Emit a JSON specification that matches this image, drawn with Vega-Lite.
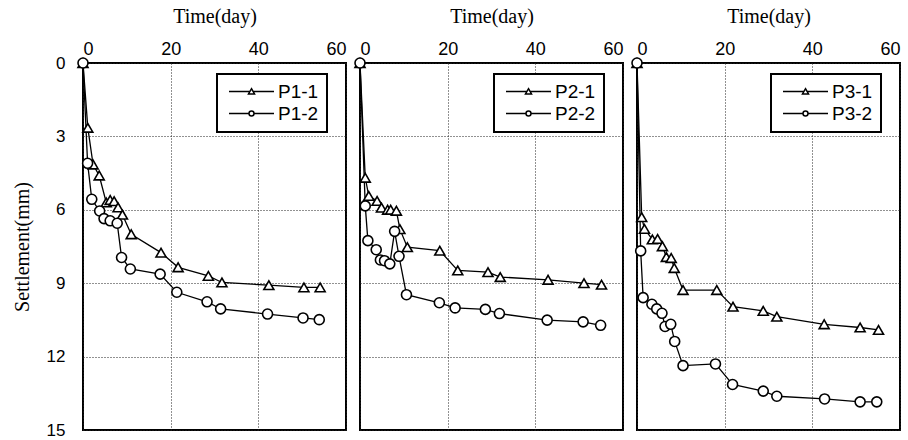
{
  "$schema": "https://vega.github.io/schema/vega-lite/v6.json",
  "padding": {"left": 11, "top": 5, "right": 0, "bottom": 0},
  "spacing": 14,
  "bounds": "flush",
  "data": {"values": [
    {"p":"P1","k":"P1-1","t":0,"s":0},{"p":"P1","k":"P1-1","t":1.1,"s":2.65},{"p":"P1","k":"P1-1","t":2.3,"s":4.15},{"p":"P1","k":"P1-1","t":3.7,"s":4.6},{"p":"P1","k":"P1-1","t":5.3,"s":5.7},{"p":"P1","k":"P1-1","t":6.2,"s":5.6},{"p":"P1","k":"P1-1","t":7.1,"s":5.65},{"p":"P1","k":"P1-1","t":8.0,"s":5.9},{"p":"P1","k":"P1-1","t":9.0,"s":6.2},{"p":"P1","k":"P1-1","t":11.0,"s":7.0},{"p":"P1","k":"P1-1","t":17.8,"s":7.75},{"p":"P1","k":"P1-1","t":21.7,"s":8.35},{"p":"P1","k":"P1-1","t":28.6,"s":8.7},{"p":"P1","k":"P1-1","t":31.7,"s":8.97},{"p":"P1","k":"P1-1","t":42.4,"s":9.08},{"p":"P1","k":"P1-1","t":50.4,"s":9.17},{"p":"P1","k":"P1-1","t":54.1,"s":9.17},
    {"p":"P1","k":"P1-2","t":0,"s":0},{"p":"P1","k":"P1-2","t":1.05,"s":4.1},{"p":"P1","k":"P1-2","t":2.0,"s":5.57},{"p":"P1","k":"P1-2","t":3.8,"s":6.05},{"p":"P1","k":"P1-2","t":4.8,"s":6.36},{"p":"P1","k":"P1-2","t":6.2,"s":6.45},{"p":"P1","k":"P1-2","t":7.8,"s":6.55},{"p":"P1","k":"P1-2","t":8.8,"s":7.95},{"p":"P1","k":"P1-2","t":10.8,"s":8.42},{"p":"P1","k":"P1-2","t":17.6,"s":8.63},{"p":"P1","k":"P1-2","t":21.4,"s":9.37},{"p":"P1","k":"P1-2","t":28.3,"s":9.76},{"p":"P1","k":"P1-2","t":31.4,"s":10.05},{"p":"P1","k":"P1-2","t":42.1,"s":10.26},{"p":"P1","k":"P1-2","t":50.2,"s":10.42},{"p":"P1","k":"P1-2","t":53.9,"s":10.49},
    {"p":"P2","k":"P2-1","t":0,"s":0},{"p":"P2","k":"P2-1","t":1.2,"s":4.69},{"p":"P2","k":"P2-1","t":2.0,"s":5.43},{"p":"P2","k":"P2-1","t":3.9,"s":5.64},{"p":"P2","k":"P2-1","t":4.9,"s":5.91},{"p":"P2","k":"P2-1","t":6.3,"s":6.0},{"p":"P2","k":"P2-1","t":7.0,"s":6.0},{"p":"P2","k":"P2-1","t":8.3,"s":6.04},{"p":"P2","k":"P2-1","t":9.1,"s":6.79},{"p":"P2","k":"P2-1","t":10.8,"s":7.53},{"p":"P2","k":"P2-1","t":18.2,"s":7.67},{"p":"P2","k":"P2-1","t":22.3,"s":8.48},{"p":"P2","k":"P2-1","t":29.2,"s":8.55},{"p":"P2","k":"P2-1","t":32.0,"s":8.75},{"p":"P2","k":"P2-1","t":42.9,"s":8.86},{"p":"P2","k":"P2-1","t":51.1,"s":9.0},{"p":"P2","k":"P2-1","t":55.1,"s":9.06},
    {"p":"P2","k":"P2-2","t":0,"s":0},{"p":"P2","k":"P2-2","t":1.2,"s":5.84},{"p":"P2","k":"P2-2","t":1.8,"s":7.26},{"p":"P2","k":"P2-2","t":3.7,"s":7.63},{"p":"P2","k":"P2-2","t":4.65,"s":8.05},{"p":"P2","k":"P2-2","t":5.6,"s":8.08},{"p":"P2","k":"P2-2","t":6.8,"s":8.21},{"p":"P2","k":"P2-2","t":7.9,"s":6.88},{"p":"P2","k":"P2-2","t":8.9,"s":7.9},{"p":"P2","k":"P2-2","t":10.6,"s":9.47},{"p":"P2","k":"P2-2","t":18.1,"s":9.8},{"p":"P2","k":"P2-2","t":21.7,"s":10.01},{"p":"P2","k":"P2-2","t":28.6,"s":10.07},{"p":"P2","k":"P2-2","t":31.8,"s":10.24},{"p":"P2","k":"P2-2","t":42.7,"s":10.51},{"p":"P2","k":"P2-2","t":50.9,"s":10.58},{"p":"P2","k":"P2-2","t":54.9,"s":10.72},
    {"p":"P3","k":"P3-1","t":0,"s":0},{"p":"P3","k":"P3-1","t":1.07,"s":6.3},{"p":"P3","k":"P3-1","t":1.7,"s":6.78},{"p":"P3","k":"P3-1","t":3.5,"s":7.21},{"p":"P3","k":"P3-1","t":4.7,"s":7.19},{"p":"P3","k":"P3-1","t":5.8,"s":7.49},{"p":"P3","k":"P3-1","t":6.7,"s":7.93},{"p":"P3","k":"P3-1","t":7.8,"s":7.97},{"p":"P3","k":"P3-1","t":8.5,"s":8.38},{"p":"P3","k":"P3-1","t":10.5,"s":9.28},{"p":"P3","k":"P3-1","t":18.2,"s":9.28},{"p":"P3","k":"P3-1","t":21.9,"s":9.96},{"p":"P3","k":"P3-1","t":28.8,"s":10.13},{"p":"P3","k":"P3-1","t":31.9,"s":10.37},{"p":"P3","k":"P3-1","t":42.7,"s":10.68},{"p":"P3","k":"P3-1","t":50.9,"s":10.81},{"p":"P3","k":"P3-1","t":55.1,"s":10.91},
    {"p":"P3","k":"P3-2","t":0,"s":0},{"p":"P3","k":"P3-2","t":0.84,"s":7.68},{"p":"P3","k":"P3-2","t":1.4,"s":9.59},{"p":"P3","k":"P3-2","t":3.4,"s":9.86},{"p":"P3","k":"P3-2","t":4.5,"s":10.05},{"p":"P3","k":"P3-2","t":5.7,"s":10.23},{"p":"P3","k":"P3-2","t":6.4,"s":10.77},{"p":"P3","k":"P3-2","t":7.7,"s":10.68},{"p":"P3","k":"P3-2","t":8.6,"s":11.38},{"p":"P3","k":"P3-2","t":10.5,"s":12.37},{"p":"P3","k":"P3-2","t":17.9,"s":12.3},{"p":"P3","k":"P3-2","t":21.8,"s":13.14},{"p":"P3","k":"P3-2","t":28.8,"s":13.41},{"p":"P3","k":"P3-2","t":31.9,"s":13.62},{"p":"P3","k":"P3-2","t":42.8,"s":13.73},{"p":"P3","k":"P3-2","t":50.9,"s":13.85},{"p":"P3","k":"P3-2","t":54.7,"s":13.85}
  ]},
  "resolve": {"scale": {"shape": "independent"}, "legend": {"shape": "independent"}},
  "hconcat": [
    {
      "width": 263, "height": 367,
      "transform": [{"filter": "datum.p == 'P1'"}],
      "encoding": {
        "x": {"field": "t", "type": "quantitative", "scale": {"domain": [0, 60], "nice": false}, "axis": {"orient": "top", "values": [0, 20, 40, 60], "title": "Time(day)", "labelFlush": true, "labelPadding": 5, "titlePadding": 14}},
        "y": {"field": "s", "type": "quantitative", "scale": {"domain": [0, 15], "reverse": true, "nice": false}, "axis": {"values": [0, 3, 6, 9, 12, 15], "title": "Settlement(mm)", "labelPadding": 18, "titlePadding": 14, "labelFontSize": 17, "labelFlush": false}}
      },
      "resolve": {"scale": {"shape": "independent"}},
      "layer": [
        {"mark": {"type": "line", "color": "black", "strokeWidth": 1.3, "clip": false}, "encoding": {"detail": {"field": "k"}}},
        {"mark": {"type": "point", "filled": true, "fill": "white", "stroke": "black", "strokeWidth": 1.6, "size": 100, "opacity": 1},
         "encoding": {"shape": {"field": "k", "type": "nominal", "scale": {"domain": ["P1-1", "P1-2"], "range": ["triangle-up", "circle"]}, "legend": null}}},
        {"mark": {"type": "point", "filled": true, "fill": "white", "stroke": "black", "strokeWidth": 1.5, "opacity": 0, "size": 16},
         "encoding": {"shape": {"field": "k", "type": "nominal", "scale": {"domain": ["P1-1", "P1-2"], "range": ["M-11.25,0H-0.8M0.8,0H11.25M0,-1.4L1.5,1.2L-1.5,1.2Z", "M-11.25,0H-1.25M1.25,0H11.25M1.25,0A1.25,1.25,0,1,1,-1.25,0A1.25,1.25,0,1,1,1.25,0Z"]},
           "legend": {"title": null, "orient": "none", "legendX": 134, "legendY": 11, "padding": 8, "fillColor": "white", "strokeColor": "black", "symbolSize": 16, "symbolStrokeWidth": 1.5, "symbolOpacity": 1, "symbolOffset": 17, "labelOffset": 17, "labelFont": "Liberation Sans", "labelFontSize": 19, "labelColor": "black", "rowPadding": 2}}}}
      ]
    },
    {
      "width": 263, "height": 367,
      "transform": [{"filter": "datum.p == 'P2'"}],
      "encoding": {
        "x": {"field": "t", "type": "quantitative", "scale": {"domain": [0, 60], "nice": false}, "axis": {"orient": "top", "values": [0, 20, 40, 60], "title": "Time(day)", "labelFlush": true, "labelPadding": 5, "titlePadding": 14}},
        "y": {"field": "s", "type": "quantitative", "scale": {"domain": [0, 15], "reverse": true, "nice": false}, "axis": {"values": [0, 3, 6, 9, 12, 15], "title": null, "labels": false}}
      },
      "resolve": {"scale": {"shape": "independent"}},
      "layer": [
        {"mark": {"type": "line", "color": "black", "strokeWidth": 1.3, "clip": false}, "encoding": {"detail": {"field": "k"}}},
        {"mark": {"type": "point", "filled": true, "fill": "white", "stroke": "black", "strokeWidth": 1.6, "size": 100, "opacity": 1},
         "encoding": {"shape": {"field": "k", "type": "nominal", "scale": {"domain": ["P2-1", "P2-2"], "range": ["triangle-up", "circle"]}, "legend": null}}},
        {"mark": {"type": "point", "filled": true, "fill": "white", "stroke": "black", "strokeWidth": 1.5, "opacity": 0, "size": 16},
         "encoding": {"shape": {"field": "k", "type": "nominal", "scale": {"domain": ["P2-1", "P2-2"], "range": ["M-11.25,0H-0.8M0.8,0H11.25M0,-1.4L1.5,1.2L-1.5,1.2Z", "M-11.25,0H-1.25M1.25,0H11.25M1.25,0A1.25,1.25,0,1,1,-1.25,0A1.25,1.25,0,1,1,1.25,0Z"]},
           "legend": {"title": null, "orient": "none", "legendX": 134, "legendY": 11, "padding": 8, "fillColor": "white", "strokeColor": "black", "symbolSize": 16, "symbolStrokeWidth": 1.5, "symbolOpacity": 1, "symbolOffset": 17, "labelOffset": 17, "labelFont": "Liberation Sans", "labelFontSize": 19, "labelColor": "black", "rowPadding": 2}}}}
      ]
    },
    {
      "width": 263, "height": 367,
      "transform": [{"filter": "datum.p == 'P3'"}],
      "encoding": {
        "x": {"field": "t", "type": "quantitative", "scale": {"domain": [0, 60], "nice": false}, "axis": {"orient": "top", "values": [0, 20, 40, 60], "title": "Time(day)", "labelFlush": true, "labelPadding": 5, "titlePadding": 14}},
        "y": {"field": "s", "type": "quantitative", "scale": {"domain": [0, 15], "reverse": true, "nice": false}, "axis": {"values": [0, 3, 6, 9, 12, 15], "title": null, "labels": false}}
      },
      "resolve": {"scale": {"shape": "independent"}},
      "layer": [
        {"mark": {"type": "line", "color": "black", "strokeWidth": 1.3, "clip": false}, "encoding": {"detail": {"field": "k"}}},
        {"mark": {"type": "point", "filled": true, "fill": "white", "stroke": "black", "strokeWidth": 1.6, "size": 100, "opacity": 1},
         "encoding": {"shape": {"field": "k", "type": "nominal", "scale": {"domain": ["P3-1", "P3-2"], "range": ["triangle-up", "circle"]}, "legend": null}}},
        {"mark": {"type": "point", "filled": true, "fill": "white", "stroke": "black", "strokeWidth": 1.5, "opacity": 0, "size": 16},
         "encoding": {"shape": {"field": "k", "type": "nominal", "scale": {"domain": ["P3-1", "P3-2"], "range": ["M-11.25,0H-0.8M0.8,0H11.25M0,-1.4L1.5,1.2L-1.5,1.2Z", "M-11.25,0H-1.25M1.25,0H11.25M1.25,0A1.25,1.25,0,1,1,-1.25,0A1.25,1.25,0,1,1,1.25,0Z"]},
           "legend": {"title": null, "orient": "none", "legendX": 134, "legendY": 11, "padding": 8, "fillColor": "white", "strokeColor": "black", "symbolSize": 16, "symbolStrokeWidth": 1.5, "symbolOpacity": 1, "symbolOffset": 17, "labelOffset": 17, "labelFont": "Liberation Sans", "labelFontSize": 19, "labelColor": "black", "rowPadding": 2}}}}
      ]
    }
  ],
  "config": {
    "background": "white",
    "view": {"stroke": "black", "strokeWidth": 2},
    "legend": {"strokeWidth": 2},
    "axis": {"grid": true, "gridColor": "#222222", "gridDash": [1, 2], "gridWidth": 1, "gridOpacity": 1, "ticks": false, "domain": false, "labelFont": "Liberation Sans", "labelFontSize": 18, "labelColor": "black", "titleFont": "Liberation Serif", "titleFontSize": 20, "titleFontWeight": "normal", "titleColor": "black"}
  }
}
